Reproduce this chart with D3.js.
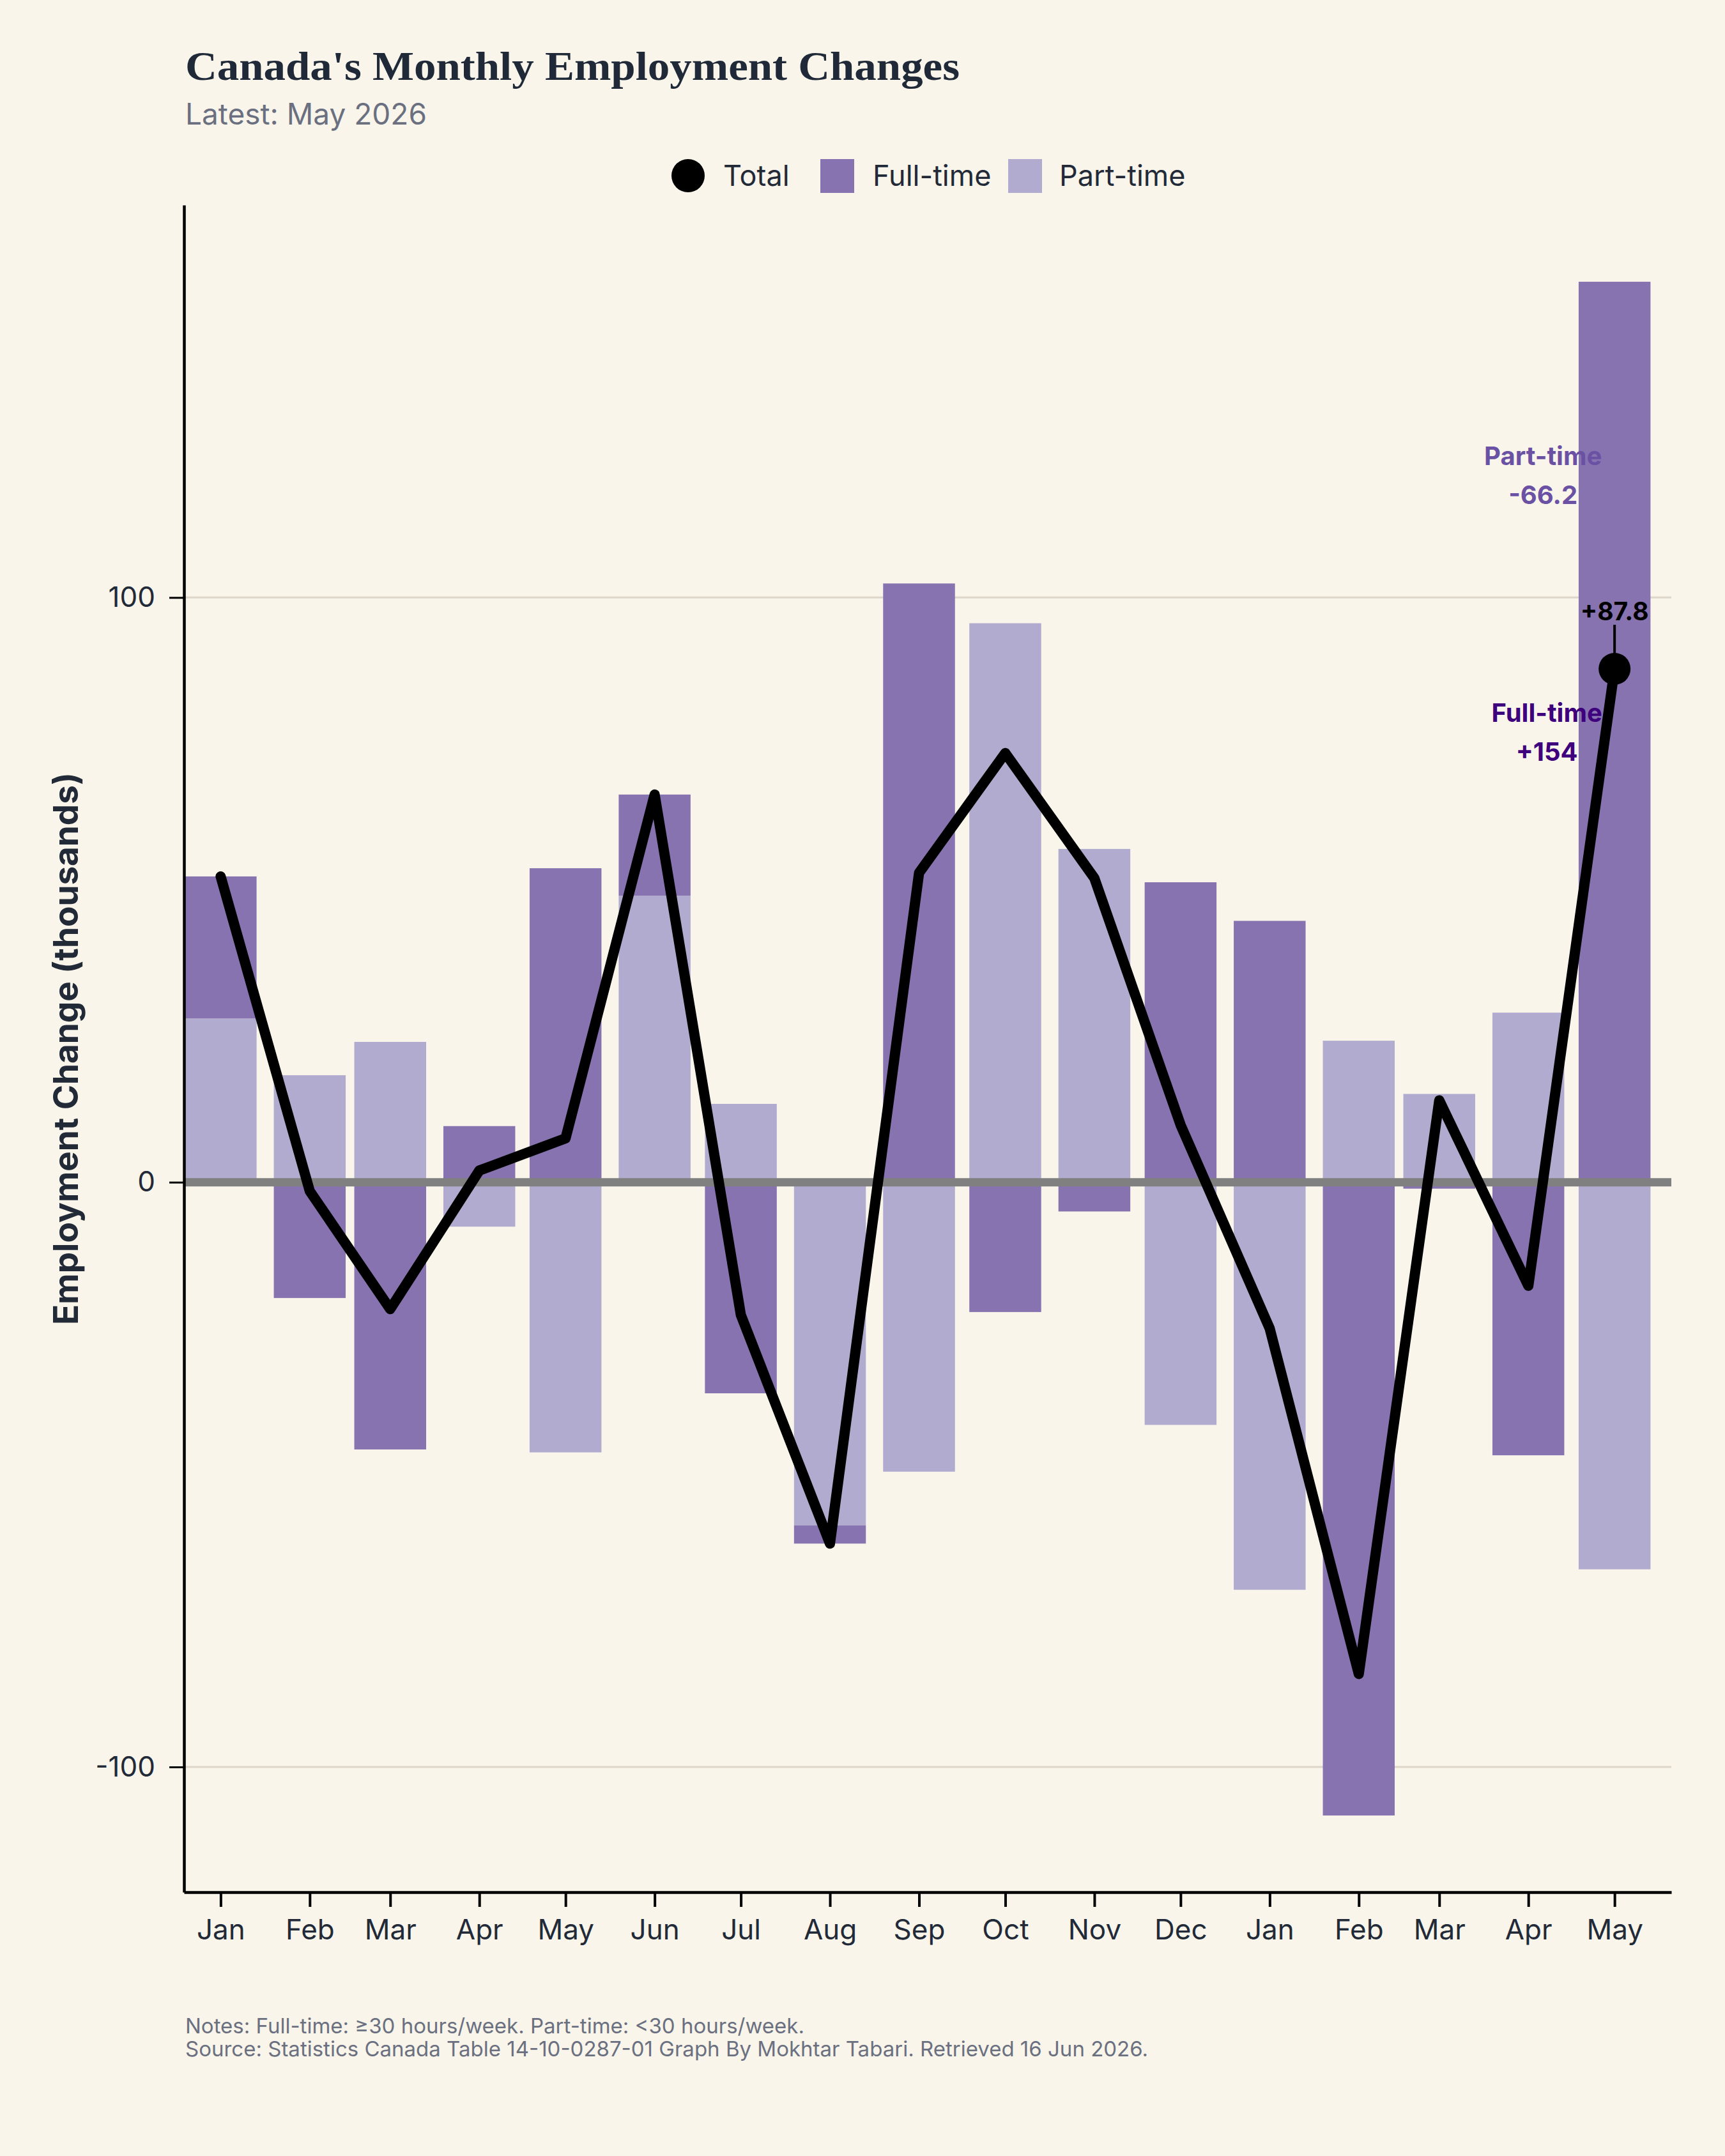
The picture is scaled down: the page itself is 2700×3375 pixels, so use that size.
<html>
<head>
<meta charset="utf-8">
<style>
  body { margin: 0; background: #f9f5eb; }
  text { font-family: "Inter", "Noto Sans", sans-serif; }
</style>
</head>
<body>
<script src="https://d3js.org/d3.v7.min.js"></script>
<div id="chart"></div>
<script>
// months, first of each month
var months = ["2025-01","2025-02","2025-03","2025-04","2025-05","2025-06","2025-07","2025-08",
              "2025-09","2025-10","2025-11","2025-12","2026-01","2026-02","2026-03","2026-04","2026-05"];
var monthLabels = ["Jan","Feb","Mar","Apr","May","Jun","Jul","Aug","Sep","Oct","Nov","Dec","Jan","Feb","Mar","Apr","May"];
// thousands
var fullTime = [24.3, -19.8, -45.7, 9.6, 53.7, 17.3, -36.1, -3.1, 102.4, -22.2, -5.0, 51.3, 44.7, -108.3, -1.1, -46.7, 154.0];
var partTime = [28.0, 18.3, 24.0, -7.6, -46.2, 49.0, 13.4, -58.7, -49.5, 95.6, 57.0, -41.5, -69.7, 24.2, 15.1, 29.0, -66.2];
var yTicks = [-100, 0, 100];

var width = 2700;
var height = 3375;
var margin = {top: 321, right: 84, bottom: 413, left: 288};

var parseMonth = d3.timeParse("%Y-%m");

var data = months.map(function(m, i) {
  return {date: parseMonth(m), label: monthLabels[i], ft: fullTime[i], pt: partTime[i], total: +(fullTime[i] + partTime[i]).toFixed(1)};
});

var svg = d3.select("#chart")
  .append("svg")
  .attr("width", width)
  .attr("height", height);

svg.append("rect")
  .attr("width", width)
  .attr("height", height)
  .attr("fill", "#f9f5eb");

var x = d3.scaleTime()
  .domain([new Date(2024, 11, 19, 6), new Date(2026, 4, 20, 18)])
  .range([margin.left, width - margin.right]);

var stack = d3.stack()
  .keys(["pt", "ft"])
  .offset(d3.stackOffsetDiverging);
var series = stack(data);

var lo = d3.min(series, function(s) { return d3.min(s, function(d) { return d[0]; }); });
var hi = d3.max(series, function(s) { return d3.max(s, function(d) { return d[1]; }); });
var pad = (hi - lo) * 0.05;

var y = d3.scaleLinear()
  .domain([lo - pad, hi + pad])
  .range([height - margin.bottom, margin.top]);

var color = {ft: "#8773b0", pt: "#b0abcf"};

// grid
svg.append("g")
  .selectAll("line")
  .data(yTicks)
  .enter().append("line")
  .attr("x1", margin.left)
  .attr("x2", width - margin.right)
  .attr("y1", function(d) { return y(d); })
  .attr("y2", function(d) { return y(d); })
  .attr("stroke", "#ddd6c9")
  .attr("stroke-width", 3);

// bars, 25 days wide
function barX(d) { return x(d3.timeHour.offset(d.data.date, -300)); }
function barW(d) { return x(d3.timeHour.offset(d.data.date, 300)) - barX(d); }

svg.append("g")
  .selectAll("g")
  .data(series)
  .enter().append("g")
  .attr("fill", function(s) { return color[s.key]; })
  .selectAll("rect")
  .data(function(s) { return s; })
  .enter().append("rect")
  .attr("x", barX)
  .attr("width", barW)
  .attr("y", function(d) { return y(Math.max(d[0], d[1])); })
  .attr("height", function(d) { return Math.abs(y(d[0]) - y(d[1])); });

// zero line
svg.append("line")
  .attr("x1", margin.left)
  .attr("x2", width - margin.right)
  .attr("y1", y(0))
  .attr("y2", y(0))
  .attr("stroke", "#808080")
  .attr("stroke-width", 13);

// axes
var xAxis = svg.append("g")
  .attr("transform", "translate(0," + (height - margin.bottom) + ")")
  .call(d3.axisBottom(x).tickValues(data.map(function(d) { return d.date; }))
    .tickFormat(function(d, i) { return monthLabels[i]; })
    .tickSize(23).tickPadding(20).tickSizeOuter(0));
xAxis.select(".domain").attr("stroke", "#000").attr("stroke-width", 4.5);
xAxis.selectAll(".tick line").attr("stroke", "#000").attr("stroke-width", 4);
xAxis.selectAll(".tick text").attr("fill", "#222a38").style("font-size", "44px").attr("dy", "0.71em");

var yAxis = svg.append("g")
  .attr("transform", "translate(" + margin.left + ",0)")
  .call(d3.axisLeft(y).tickValues(yTicks).tickSize(23).tickPadding(22).tickSizeOuter(0)
    .tickFormat(function(d) { return String(d); }));
yAxis.select(".domain").attr("stroke", "#000").attr("stroke-width", 4.5);
yAxis.selectAll(".tick line").attr("stroke", "#000").attr("stroke-width", 3);
yAxis.selectAll(".tick text").attr("fill", "#222a38").style("font-size", "44px");

svg.append("text")
  .attr("transform", "translate(103," + ((margin.top + height - margin.bottom) / 2) + ") rotate(-90)")
  .attr("text-anchor", "middle")
  .attr("dy", "0.35em")
  .attr("fill", "#222a38")
  .style("font-size", "53px")
  .style("font-weight", "700")
  .text("Employment Change (thousands)");

// total line
var line = d3.line()
  .x(function(d) { return x(d.date); })
  .y(function(d) { return y(d.total); });

svg.append("path")
  .datum(data)
  .attr("d", line)
  .attr("fill", "none")
  .attr("stroke", "#000")
  .attr("stroke-width", 16)
  .attr("stroke-linejoin", "round")
  .attr("stroke-linecap", "round");

var last = data[data.length - 1];
svg.append("circle")
  .attr("cx", x(last.date))
  .attr("cy", y(last.total))
  .attr("r", 25)
  .attr("fill", "#000");

svg.append("line")
  .attr("x1", x(last.date))
  .attr("x2", x(last.date))
  .attr("y1", y(last.total) - 23)
  .attr("y2", y(last.total) - 69)
  .attr("stroke", "#000")
  .attr("stroke-width", 4);

svg.append("text")
  .attr("x", x(last.date))
  .attr("y", y(last.total) - 76)
  .attr("text-anchor", "middle")
  .attr("fill", "#000")
  .style("font-size", "39px")
  .style("font-weight", "700")
  .text("+" + last.total);

var lx = x(last.date) - 112;
var pt = svg.append("text")
  .attr("x", lx)
  .attr("text-anchor", "middle")
  .attr("fill", "#6a51a3")
  .style("font-size", "40px")
  .style("font-weight", "700");
pt.append("tspan").attr("x", lx).attr("y", 728).text("Part-time");
pt.append("tspan").attr("x", lx).attr("y", 789).text(last.pt);

var ft = svg.append("text")
  .attr("x", lx)
  .attr("text-anchor", "middle")
  .attr("fill", "#3f007d")
  .style("font-size", "40px")
  .style("font-weight", "700");
ft.append("tspan").attr("x", lx + 6).attr("y", 1130).text("Full-time");
ft.append("tspan").attr("x", lx + 6).attr("y", 1191).text("+" + Math.round(last.ft));

// title
svg.append("text")
  .attr("x", 290)
  .attr("y", 125)
  .attr("fill", "#1f2937")
  .attr("textLength", 1212)
  .attr("lengthAdjust", "spacingAndGlyphs")
  .style("font-family", "'Liberation Serif', 'DejaVu Serif', serif")
  .style("font-size", "64px")
  .style("font-weight", "700")
  .text("Canada's Monthly Employment Changes");

svg.append("text")
  .attr("x", 290)
  .attr("y", 195)
  .attr("fill", "#6b7080")
  .style("font-size", "46px")
  .text("Latest: May 2026");

// legend
var legend = svg.append("g").style("font-size", "45px").attr("fill", "#222a38");
legend.append("circle").attr("cx", 1077).attr("cy", 275).attr("r", 26).attr("fill", "#000");
legend.append("text").attr("x", 1132).attr("y", 291).text("Total");
legend.append("rect").attr("x", 1284).attr("y", 249).attr("width", 53).attr("height", 53).attr("fill", color.ft);
legend.append("text").attr("x", 1366).attr("y", 291).text("Full-time");
legend.append("rect").attr("x", 1578).attr("y", 249).attr("width", 53).attr("height", 53).attr("fill", color.pt);
legend.append("text").attr("x", 1658).attr("y", 291).text("Part-time");

// notes
var notes = svg.append("g").style("font-size", "33px").attr("fill", "#6b7080");
notes.append("text").attr("x", 290).attr("y", 3183).text("Notes: Full-time: \u226530 hours/week. Part-time: <30 hours/week.");
notes.append("text").attr("x", 290).attr("y", 3219).text("Source: Statistics Canada Table 14-10-0287-01 Graph By Mokhtar Tabari. Retrieved 16 Jun 2026.");
</script>
</body>
</html>
